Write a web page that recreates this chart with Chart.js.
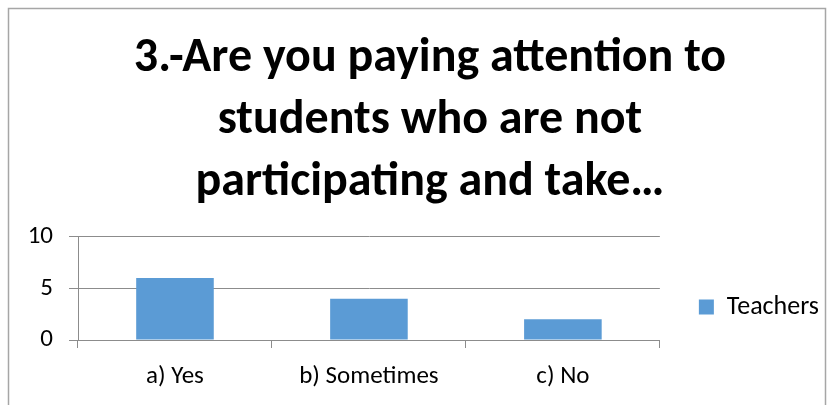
<!DOCTYPE html>
<html>
<head>
<meta charset="utf-8">
<script src="https://cdn.jsdelivr.net/npm/chart.js@4/dist/chart.umd.min.js"></script>
<style>
  html, body { margin: 0; padding: 0; background: #ffffff; }
  #wrap { width: 833px; height: 405px; }
</style>
</head>
<body>
<div id="wrap"><canvas id="grafico" width="833" height="405"></canvas></div>
<script>
const categorias = ['a) Yes', 'b) Sometimes', 'c) No'];
const teachers = [6, 4, 2];
const ticksY = [0, 5, 10];
const titulo = ['3.-Are you paying attention to', 'students who are not', 'participating and take\u2026'];

const fonte = 'Carlito, Calibri, "Liberation Sans", sans-serif';
const cinza = '#8c8c8c';

// moldura cinza em volta do gráfico
const moldura = {
  id: 'moldura',
  afterDraw(chart) {
    const c = chart.ctx;
    c.save();
    c.strokeStyle = '#a6a6a6';
    c.lineWidth = 1.5;
    c.strokeRect(8.5, 8.5, 817, 420);
    c.restore();
  }
};

// desce a legenda para ficar ao lado das barras
const legendaAbaixo = {
  id: 'legendaAbaixo',
  afterLayout(chart) {
    const l = chart.legend;
    const centro = 307;
    const d = centro - (l.top + l.bottom) / 2;
    l.top += d;
    l.bottom += d;
    l.left -= 4;
    l.right -= 4;
  }
};

const ctx = document.getElementById('grafico');
new Chart(ctx, {
  type: 'bar',
  data: {
    labels: categorias,
    datasets: [{
      label: 'Teachers',
      data: teachers,
      backgroundColor: '#5B9BD5',
      borderWidth: 0,
      categoryPercentage: 0.4,
      barPercentage: 1
    }]
  },
  options: {
    responsive: false,
    animation: false,
    layout: { padding: { left: 27, right: 0, top: 28, bottom: 13 } },
    plugins: {
      title: {
        display: true,
        text: titulo,
        color: '#000000',
        font: { family: fonte, size: 48, weight: 'bold', lineHeight: 1.29 },
        padding: { top: 0, bottom: 23 }
      },
      legend: {
        position: 'right',
        labels: {
          color: '#000000',
          font: { family: fonte, size: 26 },
          boxWidth: 15,
          boxHeight: 15,
          padding: 43
        }
      },
      tooltip: { enabled: false }
    },
    scales: {
      x: {
        afterFit(scale) { scale.height = 52; },
        grid: {
          offset: true,
          drawOnChartArea: false,
          drawTicks: true,
          tickLength: 8,
          color: cinza
        },
        border: { color: cinza },
        ticks: { color: '#000000', font: { family: fonte, size: 25 }, padding: 14 }
      },
      y: {
        min: 0,
        max: 10,
        afterFit(scale) { scale.width = 51; },
        afterBuildTicks(axis) { axis.ticks = ticksY.map(v => ({ value: v })); },
        grid: { color: cinza, tickLength: 9 },
        border: { color: cinza },
        ticks: { color: '#000000', font: { family: fonte, size: 25 }, padding: 16 }
      }
    }
  },
  plugins: [moldura, legendaAbaixo]
});
</script>
</body>
</html>
